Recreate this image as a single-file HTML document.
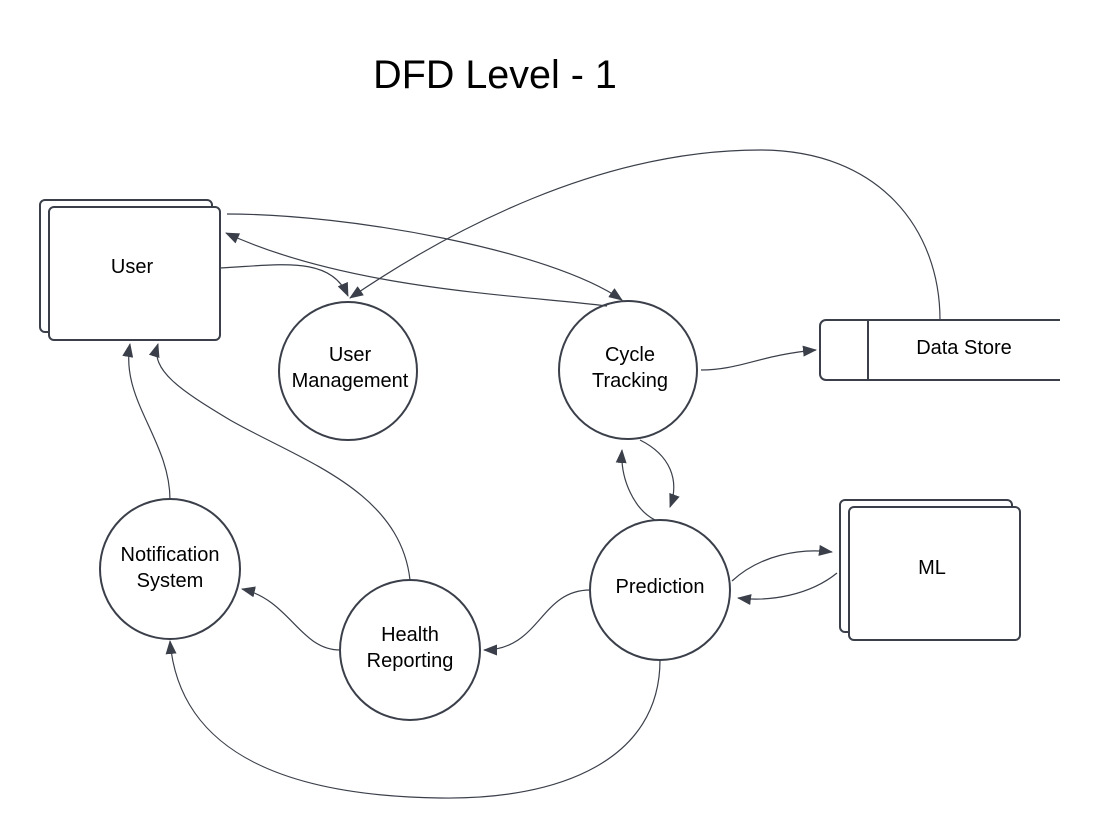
<!DOCTYPE html>
<html><head><meta charset="utf-8"><style>body{margin:0;background:#fff}svg{display:block}</style></head><body>
<svg width="1100" height="838" viewBox="0 0 1100 838" xmlns="http://www.w3.org/2000/svg" font-family="Liberation Sans, sans-serif">
<defs><marker id="a" markerWidth="14" markerHeight="11" refX="13" refY="5.5" orient="auto" markerUnits="userSpaceOnUse"><path d="M0,0 L14,5.5 L0,11 Z" fill="#3a3f4a"/></marker></defs>
<rect width="1100" height="838" fill="#fff"/>
<text x="495" y="88" font-size="39.5" text-anchor="middle" fill="#000">DFD Level - 1</text>
<g fill="#fff" stroke="#3a3f4a" stroke-width="2">
<rect x="40" y="200" width="172" height="132" rx="5"/>
<rect x="49" y="207" width="171" height="133" rx="5"/>
<rect x="840" y="500" width="172" height="132" rx="5"/>
<rect x="849" y="507" width="171" height="133" rx="5"/>
<path d="M1060,320 H826 a6,6 0 0 0 -6,6 V374 a6,6 0 0 0 6,6 H1060" />
<line x1="868" y1="320" x2="868" y2="380"/>
<circle cx="348" cy="371" r="69"/>
<circle cx="628" cy="370" r="69"/>
<circle cx="170" cy="569" r="70"/>
<circle cx="410" cy="650" r="70"/>
<circle cx="660" cy="590" r="70"/>
</g>
<g fill="none" stroke="#3a3f4a" stroke-width="1.2" marker-end="url(#a)">
<path d="M220,268 C280,265 330,255 348,296"/>
<path d="M227,214 C350,214 550,250 622,300"/>
<path d="M607,306 C520,295 350,290 226,233"/>
<path d="M940,320 C940,230 880,150 760,150 C600,150 450,230 350,298"/>
<path d="M701,370 C740,370 760,355 816,350"/>
<path d="M640,440 C670,455 680,480 670,507"/>
<path d="M655,520 C635,510 620,480 622,450"/>
<path d="M732,581 C760,555 800,548 832,552"/>
<path d="M837,573 C810,595 770,602 738,598"/>
<path d="M590,590 C540,590 540,650 484,650"/>
<path d="M340,650 C300,650 290,600 242,589"/>
<path d="M170,500 C170,440 120,400 130,344"/>
<path d="M410,580 C400,490 300,460 230,420 C180,390 150,370 158,344"/>
<path d="M660,660 C660,760 560,800 440,798 C300,796 180,760 170,641"/>
</g>
<g font-size="20" fill="#000" text-anchor="middle">
<text x="132" y="273">User</text>
<text x="350" y="361">User</text><text x="350" y="387">Management</text>
<text x="630" y="361">Cycle</text><text x="630" y="387">Tracking</text>
<text x="964" y="354">Data Store</text>
<text x="932" y="574">ML</text>
<text x="170" y="561">Notification</text><text x="170" y="587">System</text>
<text x="410" y="641">Health</text><text x="410" y="667">Reporting</text>
<text x="660" y="593">Prediction</text>
</g>
</svg>
</body></html>
